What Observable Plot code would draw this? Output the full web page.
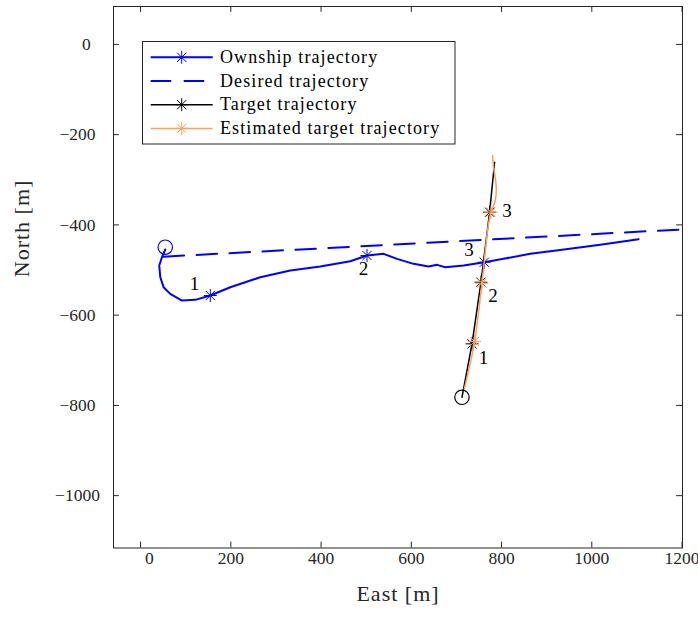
<!DOCTYPE html>
<html>
<head>
<meta charset="utf-8">
<script src="https://cdn.jsdelivr.net/npm/d3@7"></script>
<script src="https://cdn.jsdelivr.net/npm/@observablehq/plot@0.6"></script>
<style>
  html, body { margin: 0; padding: 0; background: #fff; }
  #chart { width: 698px; height: 617px; }
</style>
</head>
<body>
<div id="chart"></div>
<script>
// ---------------- data (East / North in metres) ----------------
const ownshipEast  = [54.7, 47.4, 41.4, 43.7, 51, 65.8, 91.8, 121.2, 154.5, 198.8, 265.3, 331.8, 398.3, 464.8, 501.8, 538.6, 568.3, 605, 638.3, 657, 675.3, 716, 761.7, 804.5, 863.7, 930, 1018.8, 1103.7];
const ownshipNorth = [-454.5, -471.6, -490, -516, -538, -552.8, -567.6, -566.1, -556.5, -538.1, -516, -501, -492.2, -480.5, -467.8, -464.1, -475.2, -486.3, -492.2, -488.5, -493.8, -490, -482.7, -475.2, -464.1, -455.7, -444.1, -431.7];
const ownshipMarkEast  = [154.5, 501.8, 761.7];
const ownshipMarkNorth = [-556.5, -467.8, -482.7];

const desiredEast  = [51, 1260];
const desiredNorth = [-470.3, -406.9];

const targetEast  = [712.3, 734.5, 754.4, 773.5, 784.6];
const targetNorth = [-782, -663.6, -527, -371.8, -261];
const targetMarkEast  = [734.5, 754.4, 773.5];
const targetMarkNorth = [-663.6, -527, -371.8];

const estEast  = [717.4, 727, 740.2, 756.6, 770, 776.6, 786.1, 788.3, 782.4, 780.1];
const estNorth = [-763.4, -722.8, -658.5, -529.3, -405, -371.8, -345.9, -316.4, -272, -246];
const estMarkEast  = [740.2, 756.6, 776.6];
const estMarkNorth = [-658.5, -529.3, -371.8];

const startEast  = [54.7, 712.3];
const startNorth = [-449.4, -782];

const annoText  = ["1", "2", "3", "1", "2", "3"];
const annoEast  = [119.7, 494, 728, 760, 781, 812];
const annoNorth = [-530.6, -497, -456, -695.5, -556.5, -368];

const xTicks = [0, 200, 400, 600, 800, 1000, 1200];
const yTicks = [0, -200, -400, -600, -800, -1000];
const xLabel = "East [m]";
const yLabel = "North [m]";

const legendLabels = ["Ownship trajectory", "Desired trajectory", "Target trajectory", "Estimated target trajectory"];

// ---------------- styles ----------------
const BLUE = "#0000ff", BLACK = "#000000", ORANGE = "#ff9f60", AXIS = "#262626";
const seriesColors = [BLUE, BLUE, BLACK, ORANGE];
const seriesWidths = [2, 2, 1.5, 1.5];
const seriesDash = [null, "20.5,12.5", null, null];
const seriesStar = [true, false, true, true];

const zip = (xs, ys) => xs.map((x, i) => ({east: x, north: ys[i]}));
const ownship = zip(ownshipEast, ownshipNorth);
const ownshipMarks = zip(ownshipMarkEast, ownshipMarkNorth);
const desired = zip(desiredEast, desiredNorth);
const target = zip(targetEast, targetNorth);
const targetMarks = zip(targetMarkEast, targetMarkNorth);
const est = zip(estEast, estNorth);
const estMarks = zip(estMarkEast, estMarkNorth);
const annos = annoText.map((t, i) => ({t, east: annoEast[i], north: annoNorth[i]}));

function drawAsterisk(ctx, r) {
  const d = r * Math.SQRT1_2;
  ctx.moveTo(-r, 0); ctx.lineTo(r, 0);
  ctx.moveTo(0, -r); ctx.lineTo(0, r);
  ctx.moveTo(-d, -d); ctx.lineTo(d, d);
  ctx.moveTo(-d, d); ctx.lineTo(d, -d);
}
const asterisk = { draw(ctx, size) { drawAsterisk(ctx, Math.sqrt(size / Math.PI)); } };

const xDomain = [-60, 1201];
const yDomain = [-1116, 84];
const tickLen = 13; // data units (~6 px)
const fmt = d => d === 0 ? "\u2007\u20070" : (d < 0 ? "\u2212" + Math.abs(d) : String(d));

const chart = Plot.plot({
  width: 698,
  height: 617,
  marginLeft: 113,
  marginRight: 16,
  marginTop: 6,
  marginBottom: 69.5,
  x: {domain: xDomain, axis: null},
  y: {domain: yDomain, axis: null},
  style: {fontFamily: "'Liberation Serif', serif", fontSize: "18px", color: AXIS, background: "#fff"},
  marks: [
    Plot.line(desired, {x: "east", y: "north", stroke: BLUE, strokeWidth: 2, strokeDasharray: "20.5,12.5", clip: true}),
    Plot.line(ownship, {x: "east", y: "north", stroke: BLUE, strokeWidth: 2, strokeLinejoin: "round"}),
    Plot.dot(ownshipMarks, {x: "east", y: "north", symbol: asterisk, r: 6.5, stroke: BLUE, strokeWidth: 1}),
    Plot.line(target, {x: "east", y: "north", stroke: BLACK, strokeWidth: 1.5}),
    Plot.dot(targetMarks, {x: "east", y: "north", symbol: asterisk, r: 6.5, stroke: BLACK, strokeWidth: 1}),
    Plot.line(est, {x: "east", y: "north", stroke: ORANGE, strokeWidth: 1.5, curve: "catmull-rom"}),
    Plot.dot(estMarks, {x: "east", y: "north", symbol: asterisk, r: 6.5, stroke: ORANGE, strokeWidth: 1}),
    Plot.dot([0, 1], {x: i => startEast[i], y: i => startNorth[i], r: 7.2, stroke: i => i === 0 ? BLUE : BLACK, fill: "none", strokeWidth: 1.2}),
    Plot.text(annos, {x: "east", y: "north", text: "t", fill: "#000", fontSize: 19}),
    // frame and inward ticks
    Plot.frame({stroke: AXIS, strokeWidth: 1}),
    Plot.ruleX(xTicks, {x: d => d, y1: yDomain[0], y2: yDomain[0] + tickLen, stroke: AXIS}),
    Plot.ruleX(xTicks, {x: d => d, y1: yDomain[1] - tickLen, y2: yDomain[1], stroke: AXIS}),
    Plot.ruleY(yTicks, {y: d => d, x1: xDomain[0], x2: xDomain[0] + tickLen, stroke: AXIS}),
    Plot.ruleY(yTicks, {y: d => d, x1: xDomain[1] - tickLen, x2: xDomain[1], stroke: AXIS}),
    // tick labels
    Plot.text(xTicks, {x: d => d, frameAnchor: "bottom", dy: 15.5, text: fmt, fill: AXIS, fontSize: 17.5}),
    Plot.text(yTicks, {y: d => d, frameAnchor: "left", dx: -36, text: fmt, fill: AXIS, fontSize: 17.5, textAnchor: "middle"}),
    // axis labels
    Plot.text([xLabel], {frameAnchor: "bottom", dy: 52.5, text: d => d, fill: AXIS, fontSize: 22}),
    Plot.text([yLabel], {frameAnchor: "left", dx: -92, rotate: -90, text: d => d, fill: AXIS, fontSize: 22})
  ]
});

// axis label letter spacing (approximating the wider Computer Modern face)
d3.select(chart).selectAll("text").filter(function () {
  const t = this.textContent; return t === xLabel || t === yLabel;
}).attr("letter-spacing", "1px");

// ---------------- legend (inside the axes, top-left) ----------------
const svg = d3.select(chart);
const lg = svg.append("g")
  .attr("font-family", "'Liberation Serif', serif")
  .attr("font-size", 18)
  .attr("text-anchor", "start");
const box = {x: 142.5, y: 41.5, w: 312.5, h: 102.5};
lg.append("rect").attr("x", box.x).attr("y", box.y).attr("width", box.w).attr("height", box.h)
  .attr("fill", "#fff").attr("stroke", AXIS).attr("stroke-width", 1);
legendLabels.forEach((label, i) => {
  const y = 57.3 + i * 23.7;
  const x0 = 150.7, x1 = 212.7, xm = 181.7;
  lg.append("line").attr("x1", x0).attr("x2", x1).attr("y1", y).attr("y2", y)
    .attr("stroke", seriesColors[i]).attr("stroke-width", seriesWidths[i])
    .attr("stroke-dasharray", seriesDash[i]);
  if (seriesStar[i]) {
    const p = d3.path(); drawAsterisk(p, 6.5);
    lg.append("path").attr("d", p.toString()).attr("transform", `translate(${xm},${y})`)
      .attr("stroke", seriesColors[i]).attr("stroke-width", 1).attr("fill", "none");
  }
  lg.append("text").attr("x", 220).attr("y", y).attr("dy", "0.32em")
    .attr("text-anchor", "start")
    .attr("letter-spacing", "1.1px").attr("fill", "#000").text(label);
});

document.getElementById("chart").appendChild(chart);
</script>
</body>
</html>
